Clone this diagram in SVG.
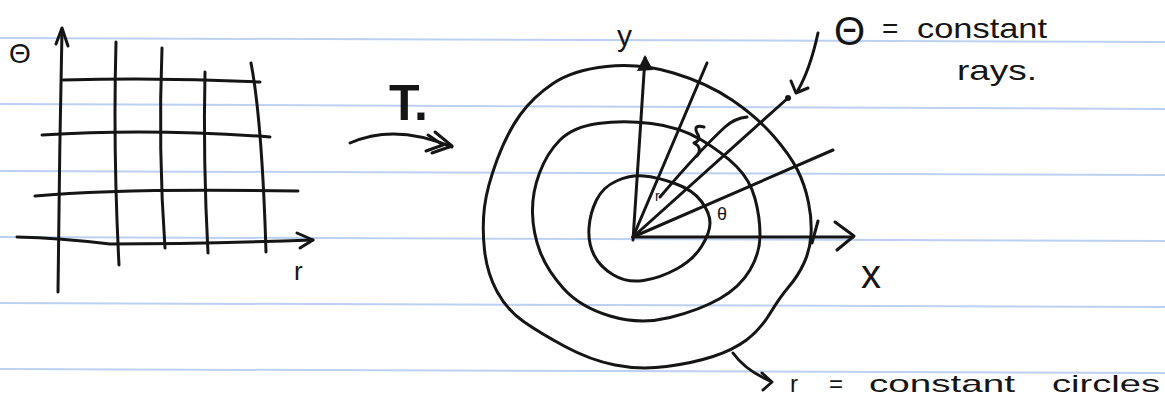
<svg xmlns="http://www.w3.org/2000/svg" width="1165" height="403" viewBox="0 0 1165 403">
<style>
.rule{stroke:#bdd0f2;stroke-width:2;fill:none}
.ink{stroke:#151515;stroke-width:3;fill:none;stroke-linecap:round;stroke-linejoin:round}
.lbl{font-family:"Liberation Sans","DejaVu Sans",sans-serif;fill:#151515}
</style>
<rect width="1165" height="403" fill="#ffffff"/>
<g id="ruled-lines">
<line class="rule" x1="0" y1="38" x2="1165" y2="42"/>
<line class="rule" x1="0" y1="104" x2="1165" y2="109"/>
<line class="rule" x1="0" y1="171" x2="1165" y2="175"/>
<line class="rule" x1="0" y1="237" x2="1165" y2="241"/>
<line class="rule" x1="0" y1="303" x2="1165" y2="307"/>
<line class="rule" x1="0" y1="369" x2="1165" y2="373"/>
</g>
<g id="rtheta-grid">
<path class="ink" d="M58,292 C59,200 60,120 62,30"/>
<path class="ink" d="M56,44 L62,28 L68,46"/>
<path class="ink" d="M63,80 Q160,77 260,82"/>
<path class="ink" d="M42,135 Q150,128 270,137"/>
<path class="ink" d="M35,196 Q120,188 298,191"/>
<path class="ink" d="M17,237 Q60,238 110,244 Q200,244 313,240"/>
<path class="ink" d="M297,233 L313,240 L300,248"/>
<path class="ink" d="M116,42 Q113,150 119,265"/>
<path class="ink" d="M162,48 Q158,150 165,248"/>
<path class="ink" d="M205,72 Q203,160 208,253"/>
<path class="ink" d="M251,63 Q262,120 266,252"/>
<text class="lbl" x="9" y="63" font-size="28">Θ</text>
<text class="lbl" x="294" y="280" font-size="26">r</text>
</g>
<g id="map-T">
<text class="lbl" x="389" y="120" font-size="50" font-weight="bold">T.</text>
</g>
<g id="connectors">
<path class="ink" d="M350,143 Q395,123 452,147"/>
<path class="ink" d="M435,132 L452,146 L432,153"/>
<path class="ink" d="M428,135 L443,145 L426,151"/>
<path class="ink" d="M818,33 Q810,70 797,92"/>
<path class="ink" d="M791,81 L796,93 L808,88"/>
<path class="ink" d="M733,353 Q745,370 770,381"/>
<path class="ink" d="M762,373 L772,382 L763,390"/>
</g>
<g id="xy-plane">
<path class="ink" d="M673.5,73 Q707,83 732,100 Q757,117 773.5,136 Q790,155 797.5,170 Q805,185 808.5,202.5 Q812,220 811,235 Q810,250 804,263 Q798,276 789,286.5 Q780,297 770,313.5 Q760,330 746.5,340 Q733,350 713,356.5 Q693,363 666.5,366.5 Q640,370 615,365 Q590,360 565,346.5 Q540,333 523.5,321.5 Q507,310 497,291.5 Q487,273 484.5,250 Q482,227 484.5,207 Q487,187 497,160 Q507,133 520,115 Q533,97 553,83.5 Q573,70 606.5,66.5 Q640,63 673.5,73 Z"/>
<path class="ink" d="M818,221 Q815,232 812,243"/>
<path class="ink" d="M651.5,123.5 Q680,127 701.5,140 Q723,153 736.5,166.5 Q750,180 755,198.5 Q760,217 760,235 Q760,253 750,270 Q740,287 720,298.5 Q700,310 670,317.5 Q640,325 610,316 Q580,307 563.5,288.5 Q547,270 540,251.5 Q533,233 532.5,213 Q532,193 539.5,173 Q547,153 560,140 Q573,127 598,123.5 Q623,120 651.5,123.5 Z"/>
<path class="ink" d="M643.5,176 Q657,177 675,183.5 Q693,190 701.5,201.5 Q710,213 710,223 Q710,233 701.5,246.5 Q693,260 676.5,269 Q660,278 643.5,280.5 Q627,283 613.5,275 Q600,267 594,255 Q588,243 589,228 Q590,213 596.5,200 Q603,187 616.5,181 Q630,175 643.5,176 Z"/>
<path class="ink" d="M633,240 L645,58"/>
<path d="M637,71 L645,55 L653,70 Z" fill="#151515"/>
<path class="ink" d="M633,237 L853,237"/>
<path class="ink" d="M835,222 L854,236 L837,250"/>
<path class="ink" d="M633,237 L707,63"/>
<path class="ink" d="M633,237 L788,98"/>
<circle cx="788" cy="98" r="3" fill="#151515"/>
<path class="ink" d="M633,237 L833,150"/>
<path class="ink" d="M660,197 Q700,150 725,127 Q735,118 747,117"/>
<path class="ink" d="M704,127 Q693,124 697,133 Q702,140 694,143 Q703,148 697,156"/>
<text class="lbl" x="617" y="46" font-size="30">y</text>
<text class="lbl" x="861" y="288" font-size="40">x</text>
<text class="lbl" x="717" y="220" font-size="18">θ</text>
<text class="lbl" x="655" y="201" font-size="14">r</text>
</g>
<g id="annotations">
<text class="lbl" font-size="28"><tspan x="834" y="45" font-size="40">Θ</tspan><tspan x="882" y="38">=</tspan><tspan x="917" y="38" textLength="130" lengthAdjust="spacingAndGlyphs">constant</tspan></text>
<text class="lbl" x="957" y="80" font-size="28" textLength="80" lengthAdjust="spacingAndGlyphs">rays.</text>
<text class="lbl" font-size="24"><tspan x="790" y="392">r</tspan><tspan x="829" y="392">=</tspan><tspan x="869" y="392" textLength="146" lengthAdjust="spacingAndGlyphs">constant</tspan><tspan x="1052" y="392" textLength="108" lengthAdjust="spacingAndGlyphs">circles</tspan></text>
</g>
</svg>
